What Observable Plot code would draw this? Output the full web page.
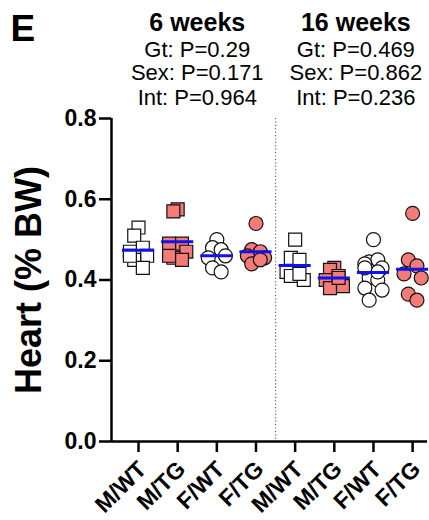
<!DOCTYPE html>
<html><head><meta charset="utf-8">
<script src="https://cdn.jsdelivr.net/npm/d3@7"></script>
<script src="https://cdn.jsdelivr.net/npm/@observablehq/plot@0.6"></script>
<style>
body{margin:0;background:#fff}
#chart svg{display:block}
</style>
</head><body><div id="chart"></div>
<script>
// ---- data ----
const groups = ["M/WT","M/TG","F/WT","F/TG","M/WT","M/TG","F/WT","F/TG"];
const sexes  = ["M","M","F","F","M","M","F","F"];
const genos  = ["WT","TG","WT","TG","WT","TG","WT","TG"];
const weeks  = ["6 weeks","16 weeks"];
const pGt  = ["0.29","0.469"];
const pSex = ["0.171","0.862"];
const pInt = ["0.964","0.236"];
const yTicks = [0, 0.2, 0.4, 0.6, 0.8];

const w6_M_WT  = [0.53, 0.51, 0.48, 0.47, 0.46, 0.45, 0.43, 0.46];
const w6_M_TG  = [0.575, 0.57, 0.49, 0.49, 0.47, 0.455, 0.45, 0.46];
const w6_F_WT  = [0.50, 0.48, 0.475, 0.455, 0.46, 0.43, 0.42];
const w6_F_TG  = [0.54, 0.475, 0.47, 0.46, 0.455, 0.44, 0.45];
const w16_M_WT = [0.50, 0.455, 0.45, 0.42, 0.40, 0.41, 0.415];
const w16_M_TG = [0.43, 0.425, 0.41, 0.40, 0.385, 0.38, 0.405];
const w16_F_WT = [0.50, 0.445, 0.45, 0.44, 0.43, 0.405, 0.40, 0.38, 0.375, 0.35, 0.42, 0.43];
const w16_F_TG = [0.565, 0.45, 0.435, 0.415, 0.405, 0.365, 0.35];
const series = [w6_M_WT, w6_M_TG, w6_F_WT, w6_F_TG, w16_M_WT, w16_M_TG, w16_F_WT, w16_F_TG];

// ---- build table ----
const jit = k => k === 0 ? 0 : (k % 2 ? -1 : 1) * (((Math.ceil(k / 2) - 1) % 2) + 1) * 0.11;
const pts = series.flatMap((vals, g) => vals.map((v, k) => ({g, x: g + jit(k), v, sex: sexes[g], geno: genos[g]})));
const means = series.map((vals, g) => ({g, m: d3.mean(vals)}));
const headers = weeks.map((w, i) => ({x: i === 0 ? 1.5 : 5.55, w, gt: "Gt: P=" + pGt[i], sx: "Sex: P=" + pSex[i], it: "Int: P=" + pInt[i]}));

const SALMON = "#f37b78", BLUE = "#1111ee";
const FONT = "'Liberation Sans', Arial, sans-serif";
const xmin = -0.69, xmax = 7.38;

const hdr = (key, dy, extra) => Plot.text(headers, {x: "x", text: key, frameAnchor: "top", dy,
  textAnchor: "middle", lineAnchor: "middle", fontSize: 22, ...extra});

const plot = Plot.plot({
  width: 429, height: 520,
  marginTop: 118, marginBottom: 79, marginLeft: 111, marginRight: 2,
  style: {fontFamily: FONT, color: "#000", background: "#fff", overflow: "visible"},
  x: {domain: [xmin, xmax], axis: null},
  y: {domain: [0, 0.8], axis: null},
  marks: [
    Plot.ruleX([3.5], {stroke: "#666", strokeWidth: 1.2, strokeDasharray: "1.2,2.2"}),
    Plot.axisY({ticks: yTicks, tickFormat: d3.format(".1f"), tickSize: 12, tickPadding: 3,
      fontSize: 23, fontWeight: "bold", label: null, strokeWidth: 2.5}),
    Plot.axisX({ticks: d3.range(8), text: null, tickSize: 11, label: null, strokeWidth: 2.5}),
    Plot.axisX({ticks: d3.range(8), tickFormat: i => groups[i], tickSize: 0, tickPadding: 24, dx: 4,
      tickRotate: -45, fontSize: 23, fontWeight: "bold", label: null}),
    Plot.ruleX([xmin], {strokeWidth: 2.5}),
    Plot.ruleY([0], {strokeWidth: 2.5}),
    Plot.dot(pts.filter(d => d.sex === "M"), {x: "x", y: "v", symbol: "square", r: 7.3,
      fill: d => d.geno === "TG" ? SALMON : "#fff", stroke: "#111", strokeWidth: 1.2}),
    Plot.dot(pts.filter(d => d.sex === "F"), {x: "x", y: "v", symbol: "circle", r: 7,
      fill: d => d.geno === "TG" ? SALMON : "#fff", stroke: "#111", strokeWidth: 1.2}),
    Plot.ruleY(means, {y: "m", x1: d => d.g - 0.41, x2: d => d.g + 0.41, stroke: BLUE, strokeWidth: 3}),
    hdr("w", -96, {fontSize: 25, fontWeight: "bold"}),
    hdr("gt", -69),
    hdr("sx", -46),
    hdr("it", -21),
    Plot.text(["Heart (% BW)"], {y: [0.4], frameAnchor: "left", dx: -82, rotate: -90,
      textAnchor: "middle", lineAnchor: "middle", fontSize: 36, fontWeight: "bold"}),
    Plot.text(["E"], {frameAnchor: "top-left", dx: -101, dy: -104, textAnchor: "start", lineAnchor: "top",
      fontSize: 37, fontWeight: "bold"})
  ]
});
document.getElementById("chart").append(plot);
</script>
</body></html>
